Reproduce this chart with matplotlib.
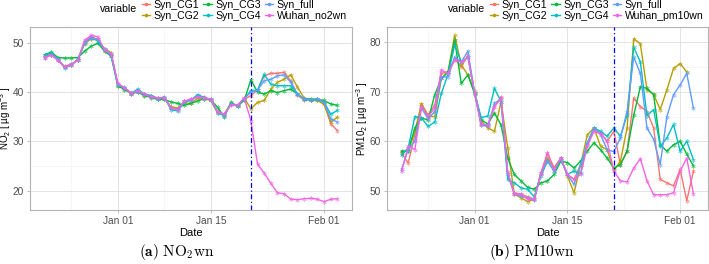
import numpy as np
import pandas as pd
import matplotlib
matplotlib.use('Agg')
import matplotlib.pyplot as plt
import matplotlib.dates as mdates
from matplotlib.lines import Line2D

plt.rcParams['font.family'] = ['Liberation Sans', 'DejaVu Sans']

# ---- data ----
dates = pd.date_range('2019-12-21', '2020-02-03', freq='D')
labels = ['Syn_CG1', 'Syn_CG2', 'Syn_CG3', 'Syn_CG4', 'Syn_full']
colors = ['#F8766D', '#B79F00', '#00BA38', '#00BFC4', '#619CFF', '#F564E3']

# NO2 panel
no2_cg1 = [47.0, 47.6, 46.5, 45.2, 45.7, 46.4, 50.2, 51.2, 50.7, 48.3,
           47.5, 41.6, 40.7, 39.6, 40.3, 39.4, 39.3, 38.6, 38.8, 36.9,
           36.7, 38.1, 38.5, 39.1, 39.0, 38.3, 36.1, 35.4, 37.5, 37.4,
           38.5, 39.3, 40.4, 43.3, 43.8, 43.8, 44.0, 42.3, 39.4, 38.4,
           38.3, 38.4, 37.8, 33.6, 32.2]
no2_cg2 = [47.4, 47.8, 46.5, 45.1, 45.4, 46.7, 49.8, 50.8, 50.5, 48.8,
           48.0, 41.3, 40.8, 39.6, 40.0, 39.5, 39.0, 38.9, 38.6, 37.0,
           36.8, 37.8, 37.7, 38.8, 38.7, 38.3, 35.7, 35.6, 37.7, 37.1,
           38.8, 36.6, 37.9, 38.3, 40.6, 42.0, 42.6, 43.5, 41.0, 38.8,
           38.4, 38.3, 37.5, 33.9, 34.9]
no2_cg3 = [47.6, 48.1, 47.0, 46.9, 46.9, 47.0, 48.3, 49.3, 49.9, 48.3,
           47.3, 41.3, 40.5, 39.9, 40.0, 39.3, 38.9, 38.5, 38.5, 38.0,
           37.7, 37.3, 37.7, 38.2, 38.7, 38.4, 36.9, 35.0, 37.9, 37.2,
           38.3, 42.5, 40.0, 39.6, 40.3, 39.9, 40.3, 40.6, 39.6, 38.6,
           38.6, 38.5, 38.3, 37.6, 37.3]
no2_cg4 = [47.5, 47.9, 46.7, 44.9, 45.5, 46.6, 49.9, 51.0, 50.4, 48.5,
           47.4, 41.4, 40.9, 39.8, 40.6, 39.6, 39.3, 38.7, 39.0, 36.4,
           36.2, 37.9, 38.4, 39.5, 38.9, 38.5, 35.8, 35.2, 37.6, 37.2,
           38.6, 40.3, 40.4, 43.6, 41.6, 41.3, 41.3, 41.3, 39.6, 38.6,
           38.4, 38.5, 38.0, 35.5, 36.3]
no2_full = [47.2, 47.6, 46.7, 45.0, 45.6, 46.5, 50.1, 50.9, 50.7, 48.7,
            47.7, 41.5, 41.0, 39.7, 40.1, 39.6, 39.1, 38.8, 38.9, 36.7,
            36.5, 38.1, 38.4, 39.2, 38.8, 38.4, 36.0, 35.4, 37.6, 37.3,
            38.7, 40.0, 40.4, 42.3, 42.6, 43.3, 43.5, 42.0, 39.6, 38.6,
            38.4, 38.7, 37.9, 34.6, 33.9]
no2_wuhan = [47.0, 47.5, 46.4, 45.1, 45.5, 46.5, 50.5, 51.5, 51.2, 48.5,
             47.8, 41.8, 40.8, 39.8, 40.3, 39.6, 39.0, 38.8, 38.9, 36.8,
             36.4, 38.2, 38.6, 39.0, 38.8, 38.6, 36.0, 35.5, 37.4, 37.4,
             38.8, 34.2, 25.4, 23.6, 21.5, 19.6, 19.4, 18.3, 18.2, 18.4,
             18.5, 18.3, 17.8, 18.3, 18.4]

# PM10 panel
pm_cg1 = [57.6, 55.6, 61.3, 67.5, 65.3, 67.3, 73.7, 74.0, 76.7, 75.0,
          77.4, 69.8, 63.3, 63.2, 67.0, 69.0, 53.3, 49.6, 49.3, 48.8,
          48.3, 53.6, 57.6, 54.6, 56.6, 53.3, 52.3, 55.3, 59.3, 62.4,
          61.7, 60.0, 62.0, 55.3, 58.0, 68.7, 67.0, 66.0, 62.7, 52.3,
          51.6, 51.0, 54.3, 48.0, 54.0]
pm_cg2 = [57.8, 58.0, 62.0, 67.5, 65.0, 65.0, 72.7, 74.0, 81.4, 75.4,
          73.4, 70.2, 64.0, 62.7, 62.0, 68.0, 58.7, 49.3, 48.6, 47.8,
          48.3, 53.6, 56.6, 54.6, 56.6, 53.0, 49.6, 55.3, 61.3, 62.7,
          59.0, 58.3, 54.0, 56.0, 62.7, 80.7, 79.7, 70.4, 69.5, 66.4,
          70.4, 74.7, 75.7, 74.0, np.nan]
pm_cg3 = [58.0, 58.1, 62.7, 64.7, 64.3, 69.4, 72.7, 74.0, 80.4, 71.7,
          73.4, 69.6, 64.3, 63.5, 65.7, 63.3, 56.6, 53.3, 52.0, 50.7,
          50.3, 51.6, 52.0, 53.3, 56.0, 55.7, 54.6, 56.0, 58.0, 59.7,
          58.3, 56.6, 54.6, 55.3, 58.0, 65.3, 71.0, 70.7, 69.4, 59.3,
          58.0, 59.3, 60.0, 57.4, 55.0]
pm_cg4 = [57.2, 58.7, 65.0, 64.7, 63.0, 63.9, 69.7, 73.5, 79.4, 76.0,
          77.0, 69.8, 64.8, 65.1, 70.7, 68.0, 52.3, 51.6, 50.6, 50.3,
          48.8, 53.0, 56.0, 54.0, 56.3, 53.3, 54.0, 53.5, 59.7, 62.7,
          62.0, 61.0, 62.7, 61.0, 65.3, 79.0, 76.0, 65.2, 66.4, 59.0,
          60.7, 63.4, 58.0, 60.0, 56.3]
pm_full = [54.3, 58.3, 60.0, 66.7, 64.5, 66.0, 73.0, 73.0, 77.0, 76.0,
           78.2, 69.8, 63.3, 63.0, 67.7, 68.5, 53.3, 49.3, 48.9, 48.5,
           48.1, 53.5, 56.0, 54.0, 56.6, 53.3, 51.3, 55.3, 59.5, 62.7,
           61.3, 58.3, 57.9, 60.7, 66.0, 77.0, 73.7, 62.7, 60.4, 55.3,
           65.0, 69.4, 71.4, 73.7, 66.7]
pm_wuhan = [53.9, 59.0, 58.3, 67.0, 65.0, 66.7, 74.4, 73.7, 76.4, 76.0,
            77.0, 69.8, 63.5, 63.3, 67.0, 68.7, 53.8, 49.3, 49.3, 48.3,
            48.3, 53.3, 57.6, 54.3, 56.6, 53.3, 52.3, 53.3, 59.0, 62.0,
            61.5, 60.0, 54.0, 52.0, 51.8, 54.6, 56.5, 52.0, 49.2, 49.2,
            49.2, 49.6, 54.0, 56.6, 49.4]

panels = [
    dict(series=[no2_cg1, no2_cg2, no2_cg3, no2_cg4, no2_full, no2_wuhan],
         wuhan='Wuhan_no2wn', ylabel='NO$_\\mathregular{2}$ [ µg m$^\\mathregular{-3}$ ]',
         yticks=[20, 30, 40, 50], yminor=[25, 35, 45],
         event='2020-01-21', caption=r'$\mathbf{(a)}\ \mathrm{NO_2wn}$'),
    dict(series=[pm_cg1, pm_cg2, pm_cg3, pm_cg4, pm_full, pm_wuhan],
         wuhan='Wuhan_pm10wn', ylabel='PM10$_\\mathregular{2}$ [ µg m$^\\mathregular{-3}$ ]',
         yticks=[50, 60, 70, 80], yminor=[55, 65, 75],
         event='2020-01-22', caption=r'$\mathbf{(b)}\ \mathrm{PM10wn}$'),
]

xmajor = pd.to_datetime(['2020-01-01', '2020-01-15', '2020-02-01'])
xminor = pd.to_datetime(['2019-12-25', '2020-01-08']).append(
    pd.DatetimeIndex([pd.Timestamp('2020-01-23 12:00')]))

fig = plt.figure(figsize=(7.09, 2.64), dpi=100)
W, H = 709, 264
ax_boxes = [(30, 27, 352, 210), (387, 27, 708, 210)]
legend_x = [142, 490]
title_x = [100, 448]
caption_x = [177, 532]

for p, (x0, y0, x1, y1), lx, tx, cx in zip(panels, ax_boxes, legend_x, title_x, caption_x):
    ax = fig.add_axes([x0 / W, 1 - y1 / H, (x1 - x0) / W, (y1 - y0) / H])
    names = labels + [p['wuhan']]
    handles = []
    for vals, name, c in zip(p['series'], names, colors):
        ax.plot(dates, vals, color=c, lw=1.0, zorder=3)
        ax.plot(dates, vals, ls='none', marker=(6, 2, 0), ms=3, mew=0.6,
                color=c, alpha=0.5, zorder=3)
        handles.append(Line2D([], [], color=c, lw=1.0, marker=(6, 2, 0),
                              ms=2.5, mew=0.5, label=name))

    ax.axvline(pd.Timestamp(p['event']), color='blue', lw=0.9,
               ls=(0, (4, 2, 1, 2)), zorder=4)

    allv = np.concatenate([np.array(s, dtype=float) for s in p['series']])
    lo, hi = np.nanmin(allv), np.nanmax(allv)
    pad = 0.05 * (hi - lo)
    ax.set_ylim(lo - pad, hi + pad)
    span = dates[-1] - dates[0]
    ax.set_xlim(dates[0] - 0.05 * span, dates[-1] + 0.05 * span)

    ax.set_xticks(xmajor)
    ax.set_xticks(xminor, minor=True)
    ax.xaxis.set_major_formatter(mdates.DateFormatter('%b %d'))
    ax.set_yticks(p['yticks'])
    ax.set_yticks(p['yminor'], minor=True)

    ax.grid(True, which='major', color='#DEDEDE', lw=0.6)
    ax.grid(True, which='minor', color='#EFEFEF', lw=0.4)
    ax.set_axisbelow(True)
    for s in ax.spines.values():
        s.set_color('#B3B3B3')
        s.set_linewidth(0.8)
    ax.tick_params(which='major', length=2.5, width=0.6, color='#B3B3B3',
                   labelsize=7.3, labelcolor='#4D4D4D', pad=2)
    ax.tick_params(which='minor', length=0)

    ax.set_xlabel('Date', fontsize=8, labelpad=1)
    ax.set_ylabel(p['ylabel'], fontsize=7.0)
    ax.yaxis.set_label_coords(-16.5 / (x1 - x0), 0.5)

    fig.legend(handles=handles, loc='upper left',
               bbox_to_anchor=(lx / W, 1 + 0 / H), ncol=3, frameon=False,
               fontsize=7.6, handlelength=0.8, handletextpad=0.3,
               columnspacing=0.4, labelspacing=0.05, borderpad=0,
               borderaxespad=0)
    fig.text(tx / W, 1 - 9.5 / H, 'variable', fontsize=7.6, va='center')

    fig.text(cx / W, 1 - 252 / H, p['caption'], fontsize=11, ha='center',
             va='center', math_fontfamily='cm')

fig.savefig('out.png', dpi=100)
